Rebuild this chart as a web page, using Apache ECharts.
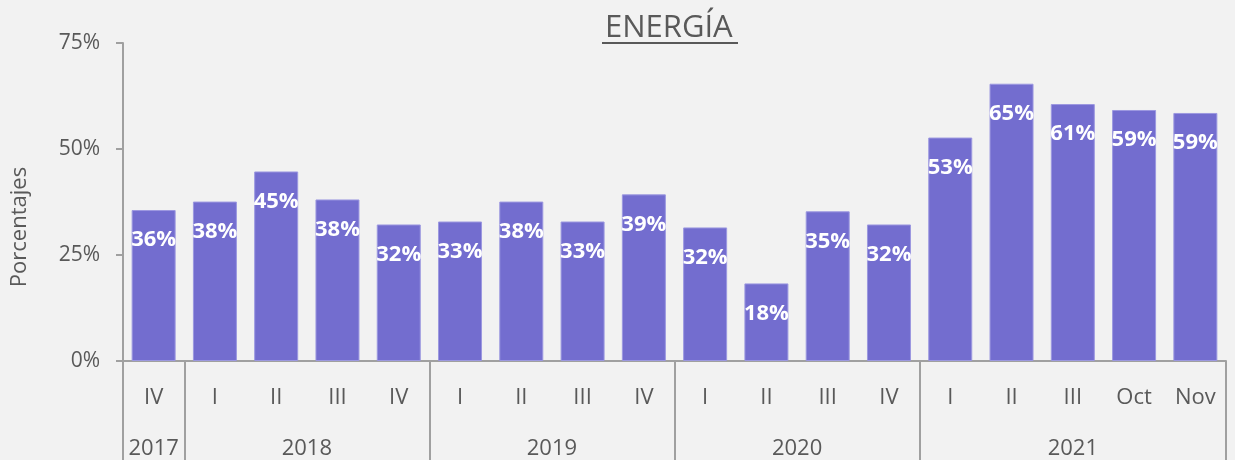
<!DOCTYPE html>
<html><head><meta charset="utf-8">
<script src="https://cdn.jsdelivr.net/npm/echarts@6/dist/echarts.min.js"></script>
<style>html,body{margin:0;padding:0;background:#f2f2f2;}#c{width:1235px;height:460px;}</style>
</head><body><div id="c"></div>
<script>
const categories = ['IV','I','II','III','IV','I','II','III','IV','I','II','III','IV','I','II','III','Oct','Nov'];
const values = [35.6,37.6,44.7,38.1,32.2,32.9,37.6,32.9,39.3,31.5,18.3,35.3,32.2,52.7,65.4,60.6,59.2,58.5];
const years = ['2017','2018','2019','2020','2021'];
const yearCenters = [0.5,3,7,11,15.5];
const yearBounds = [0,1,5,9,13,18];
const yTicks = [0,25,50,75];

const FONT = '"Open Sans", sans-serif';
const GREY = '#595959';
const chart = echarts.init(document.getElementById('c'), null, {renderer:'canvas'});
chart.setOption({
  backgroundColor: '#f2f2f2',
  animation: false,
  title: {
    text: 'ENERGÍA', left: 600, top: 8,
    textStyle: {fontFamily: FONT, fontSize: 31, fontWeight: 'normal', color: GREY}
  },
  graphic: [{type:'rect', shape:{x:602, y:42, width:136, height:2}, style:{fill:GREY}}],
  grid: {left: 123, right: 9, top: 43, bottom: 98, containLabel: false},
  xAxis: [{
    type: 'category', data: categories, position: 'bottom',
    axisLine: {show: true, lineStyle: {color: '#a0a0a0', width: 2}},
    axisTick: {show: false},
    axisLabel: {margin: 26, fontFamily: FONT, fontSize: 22, color: GREY, interval: 0}
  },{
    type: 'value', min: 0, max: 18, position: 'bottom',
    axisLine: {show: false}, splitLine: {show: false},
    axisTick: {show: true, customValues: yearBounds, length: 100, lineStyle: {color: '#a0a0a0', width: 2}},
    axisLabel: {show: true, customValues: yearCenters, margin: 77, fontFamily: FONT, fontSize: 22, color: GREY,
      formatter: v => { const i = yearCenters.indexOf(v); return i >= 0 ? years[i] : ''; }}
  }],
  yAxis: {
    type: 'value', min: 0, max: 75, interval: 25,
    name: 'Porcentajes', nameLocation: 'middle', nameGap: 92, nameRotate: 90,
    nameTextStyle: {fontFamily: FONT, fontSize: 22, color: GREY, padding: [0, 50, 0, 0]},
    axisLine: {show: true, lineStyle: {color: '#a0a0a0', width: 2}},
    axisTick: {show: true, length: 7, lineStyle: {color: '#a0a0a0', width: 2}},
    splitLine: {show: false},
    axisLabel: {margin: 23, fontFamily: FONT, fontSize: 21, color: GREY, formatter: v => v + '%'}
  },
  series: [{
    type: 'bar', data: values, xAxisIndex: 0, barWidth: 44,
    itemStyle: {color: '#736dcf', borderColor: '#9c98e0', borderWidth: 1},
    label: {show: true, position: 'insideTop', distance: 19, color: '#ffffff', fontFamily: FONT,
      fontSize: 22, fontWeight: 'bold', formatter: p => Math.round(p.value) + '%'}
  }]
});
</script></body></html>
